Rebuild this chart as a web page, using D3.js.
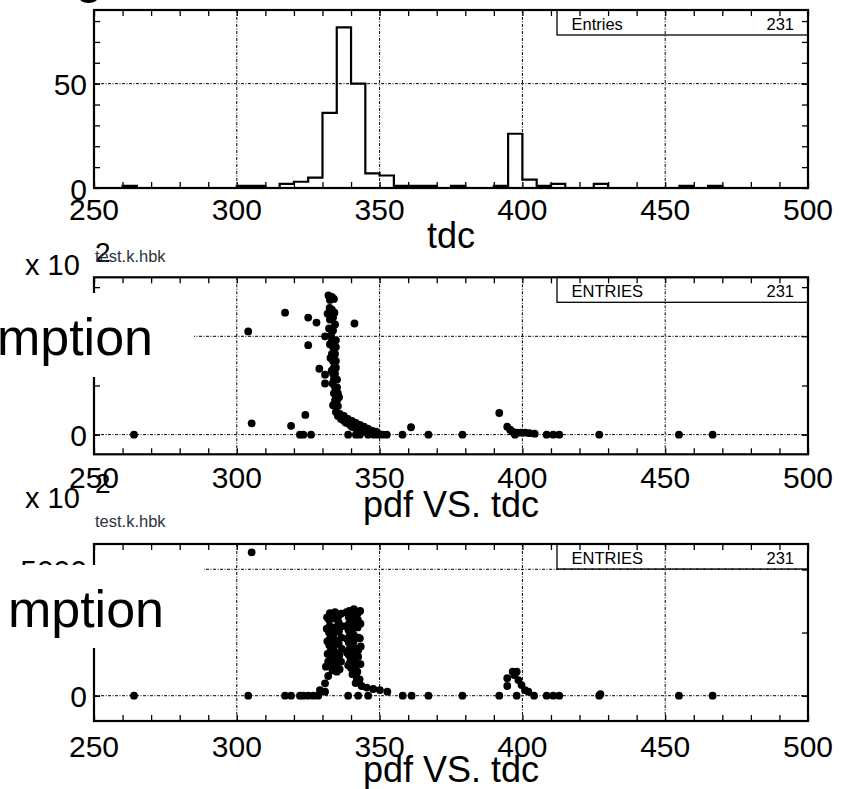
<!DOCTYPE html>
<html><head><meta charset="utf-8">
<script src="https://cdn.jsdelivr.net/npm/d3@7"></script>
<style>body{margin:0;background:#fff}svg{display:block}text{font-family:"Liberation Sans",Arial,sans-serif}</style>
</head><body>
<svg id="c" width="849" height="789"></svg>
<script>
// ---- data ----
const binEdges = [250,255,260,265,270,275,280,285,290,295,300,305,310,315,320,325,330,335,340,345,350,355,360,365,370,375,380,385,390,395,400,405,410,415,420,425,430,435,440,445,450,455,460,465,470,475,480,485,490,495];
const tdcCounts = [0,0,1,0,0,0,0,0,0,0,1,1,0,2,3,5,36,77,50,7,6,1,1,1,0,1,0,0,1,26,4,1,2,0,0,2,0,0,0,0,0,1,0,1,0,0,0,0,0,0];
const xTickLabels = [250,300,350,400,450,500];
const xMinorTicks = [260,270,280,290,310,320,330,340,360,370,380,390,410,420,430,440,460,470,480,490];
const topYLabels = [0,50];
const topYTicks = [10,20,30,40,60,70,80];
const midYLabels = [0];
const midYTicks = [5,15];
const midYGrid = [0,10];
const botYLabels = [0,5000];
const botYTicks = [2500];
const botYGrid = [0,5000];
const entries = 231;

// pdf VS. tdc (x 10^2)
const midPoints = [
[264.0,0],[304.0,10.5],[305.2,1.15],[316.9,12.4],[319.0,0.9],[322.1,0],[323.3,0],[326.0,0],[324.0,2.0],[325.0,11.9],[325.0,9.1],[327.9,11.4],[328.9,6.7],[330.9,10.0],[330.9,6.1],[330.9,5.2],[341.2,11.3],
[332.1,14.15],[333.3,14.0],[334.0,13.8],[332.6,13.7],[332.5,12.9],[333.3,12.7],[332.6,11.7],[333.7,11.9],[332.3,10.8],[333.7,10.6],[333.0,10.1],[334.4,11.2],[331.8,12.3],[334.2,12.4],
[333.3,9.6],[334.7,9.6],[332.6,9.2],[333.7,8.9],[334.7,8.9],[333.3,8.2],[334.4,8.2],[332.8,7.8],[333.7,7.5],[334.7,7.5],[334.0,6.8],[334.7,6.8],[333.2,6.5],[333.7,6.2],[334.4,6.2],[334.0,5.6],[335.1,5.6],[333.5,5.2],[334.4,4.8],[335.1,4.8],[334.0,4.2],[335.4,4.2],[334.4,3.5],[335.1,3.5],[334.4,2.9],[335.4,2.9],[333.7,3.0],[335.8,3.8],
[334.7,2.3],[336.1,2.1],[335.4,1.9],[337.5,1.9],[336.5,1.6],[338.9,1.6],[337.5,1.4],[340.3,1.4],[338.2,1.2],[341.7,1.2],[339.6,1.0],[343.1,1.0],[340.3,0.8],[344.5,0.8],[341.4,0.7],[345.9,0.6],[342.4,0.5],[347.3,0.4],[343.8,0.4],[348.7,0.3],[345.2,0.3],[349.4,0.15],[346.6,0.15],
[339.0,0],[341.7,0],[343.1,0],[346.0,0],[348.0,0],[349.5,0],[351.0,0],[352.5,0],[358.0,0],[361.0,0.75],[367.1,0],[379.0,0],
[391.9,2.2],[394.7,0.8],[395.7,0.5],[396.5,0.3],[397.4,0],[398.0,0.2],[399.5,0.2],[401.0,0.2],[402.5,0.15],[404.3,0.1],[408.5,0],[410.8,0],[412.9,0],[426.9,0],[454.8,0],[466.6,0]
];
// pdf VS. tdc (second)
const botPoints = [
[264.0,0],[304.0,0],[305.2,5670],[316.9,0],[319.0,0],[322.1,0],[323.3,0],[325.0,0],[326.8,0],[328.5,0],[329.1,225],[330.9,160],[339.0,0],[342.5,0],[346.0,0],[358.1,0],[361.2,0],[367.1,0],[379.0,0],[391.9,0],
[343.7,385],[345.5,320],[347.8,265],[350.1,225],[352.7,160],
[332.6,3270],[334.4,3300],[335.6,3150],[332.3,3000],[334.0,3050],[335.7,2900],[332.5,2750],[334.2,2700],[332.3,2500],[334.0,2450],[335.8,2550],[332.6,2250],[334.3,2200],[332.4,2000],[334.0,1950],[335.7,2050],[332.8,1750],[334.5,1700],[333.0,1500],[334.6,1450],[335.9,1600],[333.2,1250],[334.8,1200],[333.5,1000],[335.0,950],[332.0,780],[330.9,490],
[331.6,3100],[336.6,3250],[331.5,2650],[336.7,2750],[331.7,2150],[336.6,2300],[331.8,1650],[336.8,1850],[332.0,1350],[336.5,1350],[336.0,1050],[331.2,1150],
[339.4,3350],[341.0,3420],[342.3,3250],[339.2,3100],[340.8,3150],[342.4,3000],[339.3,2850],[341.0,2900],[339.1,2600],[340.7,2650],[342.3,2700],[339.4,2350],[341.0,2400],[342.6,2300],[339.2,2100],[340.9,2150],[339.5,1850],[341.1,1900],[342.5,1800],[339.3,1600],[341.0,1650],[342.5,1540],[339.7,1350],[341.3,1400],[340.0,1100],[341.6,1150],[342.2,950],[340.5,850],[342.0,700],[341.6,500],[343.1,2270],
[338.4,3300],[343.2,3350],[338.3,2750],[343.3,2850],[338.5,2250],[343.4,1950],[338.6,1700],[343.3,1250],[339.0,1200],[343.0,650],
[394.7,385],[394.7,690],[396.6,950],[398.0,950],[397.2,820],[398.6,620],[398.0,0],[399.7,420],[400.9,225],[402.1,160],[404.1,0],[408.5,0],[410.8,0],[412.9,0],[426.9,0],[427.3,60],[454.8,0],[466.6,0]
];

// ---- drawing ----
const svg = d3.select("#c");
const L = 94, R = 808;
const x = d3.scaleLinear().domain([250,500]).range([L,R]);
const GRID_DASH = "3,1.5,1,1.5";

const panels = [
  {top:10, bot:188, dom:[0,85.3], yLabels:topYLabels, yTicks:topYTicks, yGrid:[50], lblBase:220, entriesText:"Entries", title:"tdc", titleBase:248},
  {top:277.3, bot:454.3, dom:[-2,16], yLabels:midYLabels, yTicks:midYTicks, yGrid:midYGrid, lblBase:488, entriesText:"ENTRIES", title:"pdf VS. tdc", titleBase:517, pts:midPoints},
  {top:544, bot:721, dom:[-1000,6000], yLabels:botYLabels, yTicks:botYTicks, yGrid:botYGrid, lblBase:757, entriesText:"ENTRIES", title:"pdf VS. tdc", titleBase:782, pts:botPoints}
];

panels.forEach((p,i) => {
  const y = d3.scaleLinear().domain(p.dom).range([p.bot,p.top]);
  const g = svg.append("g");
  // grid
  g.selectAll(".vg").data([300,350,400,450]).join("line")
    .attr("x1",d=>x(d)).attr("x2",d=>x(d)).attr("y1",p.top).attr("y2",p.bot)
    .attr("stroke","#000").attr("stroke-width",1).attr("stroke-dasharray",GRID_DASH);
  g.selectAll(".hg").data(p.yGrid).join("line")
    .attr("x1",L).attr("x2",R).attr("y1",d=>y(d)).attr("y2",d=>y(d))
    .attr("stroke","#000").attr("stroke-width",1).attr("stroke-dasharray",GRID_DASH);
  // data
  if (i===0) {
    const pts = [[250,0]];
    binEdges.forEach((e,k)=>{ pts.push([e,tdcCounts[k]]); pts.push([e+5,tdcCounts[k]]); });
    pts.push([500,0]);
    g.append("path").attr("d", d3.line().x(d=>x(d[0])).y(d=>y(d[1]))(pts))
      .attr("fill","none").attr("stroke","#000").attr("stroke-width",2.2).attr("stroke-linejoin","miter");
  } else {
    g.selectAll("circle").data(p.pts).join("circle")
      .attr("cx",d=>x(d[0])).attr("cy",d=>y(d[1])).attr("r",3.9).attr("fill","#000");
  }
  // ticks
  const allX = xMinorTicks.concat(xTickLabels);
  g.append("g").attr("transform",`translate(0,${p.bot})`)
    .call(d3.axisBottom(x).tickValues(allX).tickSize(-6).tickFormat(""))
    .call(a=>a.select(".domain").remove()).selectAll("line").attr("stroke-width",1.3);
  g.append("g").attr("transform",`translate(0,${p.top})`)
    .call(d3.axisTop(x).tickValues(allX).tickSize(-6).tickFormat(""))
    .call(a=>a.select(".domain").remove()).selectAll("line").attr("stroke-width",1.3);
  const allY = p.yTicks.concat(p.yLabels).concat(p.yGrid);
  g.append("g").attr("transform",`translate(${L},0)`)
    .call(d3.axisLeft(y).tickValues(allY).tickSize(-6).tickFormat(""))
    .call(a=>a.select(".domain").remove()).selectAll("line").attr("stroke-width",1.3);
  g.append("g").attr("transform",`translate(${R},0)`)
    .call(d3.axisRight(y).tickValues(allY).tickSize(-6).tickFormat(""))
    .call(a=>a.select(".domain").remove()).selectAll("line").attr("stroke-width",1.3);
  // frame
  g.append("rect").attr("x",L).attr("y",p.top).attr("width",R-L).attr("height",p.bot-p.top)
    .attr("fill","none").attr("stroke","#000").attr("stroke-width",2.2);
  // entries box
  g.append("rect").attr("x",557).attr("y",p.top).attr("width",R-557).attr("height",25)
    .attr("fill","none").attr("stroke","#000").attr("stroke-width",1.3);
  g.append("text").attr("x",571.5).attr("y",p.top+19.5).attr("font-size",16.5).text(p.entriesText);
  g.append("text").attr("x",794).attr("y",p.top+19.5).attr("font-size",16.5).attr("text-anchor","end").text(entries);
  // x labels
  g.selectAll(".xl").data(xTickLabels).join("text")
    .attr("x",d=>x(d)).attr("y",p.lblBase).attr("text-anchor","middle").attr("font-size",30).text(d=>d);
  // y labels
  g.selectAll(".yl").data(p.yLabels).join("text")
    .attr("x",87).attr("y",d=>y(d)+11.5).attr("text-anchor","end").attr("font-size",30).text(d=>d);
  // title
  g.append("text").attr("x",(L+R)/2).attr("y",p.titleBase).attr("text-anchor","middle").attr("font-size",36).text(p.title);
});

// exponents and file names
function expo(base, supBase){
  svg.append("text").attr("x",25).attr("y",base).attr("font-size",29).text("x 10");
  svg.append("text").attr("x",95).attr("y",supBase).attr("font-size",28).text("2");
}
expo(275, 262);
svg.append("text").attr("x",95).attr("y",262).attr("font-size",16.5).attr("fill","#2b3340").text("test.k.hbk");
expo(508, 493);
svg.append("text").attr("x",95).attr("y",527).attr("font-size",16.5).attr("fill","#2b3340").text("test.k.hbk");

// overlapping label boxes from neighbouring pads
svg.append("text").attr("x",75).attr("y",-7).attr("font-size",50).text("g");
svg.append("rect").attr("x",0).attr("y",293).attr("width",194).attr("height",84).attr("fill","#fff");
svg.append("text").attr("x",153).attr("y",355).attr("text-anchor","end").attr("font-size",52).text("mption");
svg.append("rect").attr("x",0).attr("y",565).attr("width",204).attr("height",83).attr("fill","#fff");
svg.append("text").attr("x",164).attr("y",627).attr("text-anchor","end").attr("font-size",52).text("mption");
</script>
</body></html>
